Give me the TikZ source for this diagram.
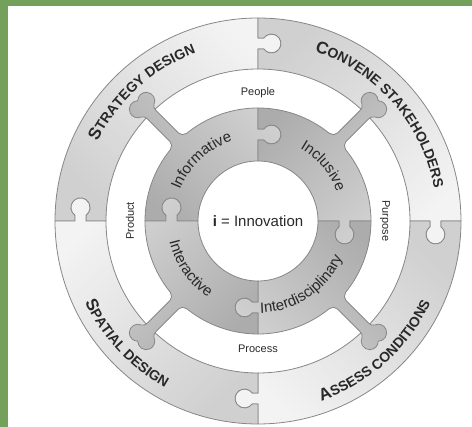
\documentclass[tikz,border=0pt]{standalone}
\usepackage{fontspec}
\setmainfont{Liberation Sans}
\usetikzlibrary{decorations.text}
\definecolor{leafgreen}{RGB}{115,160,90}
\definecolor{rimgray}{RGB}{135,135,135}
\definecolor{outerlight}{RGB}{243,243,243}
\definecolor{outerdark}{RGB}{208,208,208}
\definecolor{innerlight}{RGB}{208,208,208}
\definecolor{innerdark}{RGB}{172,172,172}
\definecolor{inkgray}{RGB}{40,40,40}
\newcommand\capbig{\bfseries\fontsize{17}{17}\selectfont}
\newcommand\capsmall{\bfseries\fontsize{14}{14}\selectfont}
\newcommand\ringfont{\fontsize{15}{15}\selectfont}

\begin{document}
\begin{tikzpicture}[
    x=1pt, y=1pt,
    outerpiece/.style={
        draw=rimgray, line width=0.8pt,
        top color=outerlight, bottom color=outerdark
    },
    innerpiece/.style={
        draw=rimgray, line width=0.8pt,
        top color=innerlight, bottom color=innerdark
    },
    ringtext/.style={
        text=inkgray, inner sep=0pt,
        font=\fontsize{11}{11}\selectfont
    },
    outerlabel/.style={
        decorate,
        decoration={text along path, text align=center,
            text color=inkgray, text={#1}}
    },
    innerlabel/.style={
        decorate,
        decoration={text along path, text align=center,
            text color=inkgray, text={|\ringfont|#1}}
    }
]
\useasboundingbox (-258,-206) rectangle (214,221);
\fill[leafgreen] (-258,-206) rectangle (-250,221);
\fill[leafgreen] (-258,215) rectangle (214,221);

% outer ring: four jigsaw pieces
\foreach \rot/\ang in {0/-45, -90/-135, -180/135, 90/45}{
  \begin{scope}[rotate=\rot]
    \path[outerpiece, shading angle=\ang] (-203,0)
      arc[start angle=180, end angle=90, radius=203]
      -- (0,183) -- (5.75,183)
      arc[start angle=144.62, end angle=-144.62, radius=9.5]
      -- (0,172) -- (0,152)
      arc[start angle=90, end angle=180, radius=152]
      -- (-172,0) -- (-172,5.75)
      arc[start angle=-54.62, end angle=234.62, radius=9.5]
      -- (-183,0) -- cycle;
  \end{scope}
}

% inner ring: four pieces with arms
\foreach \rot/\ang in {0/-45, -90/-135, -180/135, 90/45}{
  \begin{scope}[rotate=\rot]
    \path[innerpiece, shading angle=\ang] (-113,0)
      arc[start angle=180, end angle=140.84, radius=113]
      .. controls ([rotate=135]112.9,8.5) and ([rotate=135]115.5,6) .. ([rotate=135]118.5,6)
      -- ([rotate=135]149,6)
      .. controls ([rotate=135]153,6) and ([rotate=135]155.33,7.03) .. ([rotate=135]156.01,8.91)
      arc[start angle=295, end angle=90.1, radius=8.5]
      arc[start angle=179.9, end angle=-25, radius=8.5]
      .. controls ([rotate=135]155.33,-7.03) and ([rotate=135]153,-6) .. ([rotate=135]149,-6)
      -- ([rotate=135]118.5,-6)
      .. controls ([rotate=135]115.5,-6) and ([rotate=135]112.9,-8.5) .. ([rotate=135]112.41,-11.5)
      arc[start angle=129.16, end angle=90, radius=113]
      -- (0,92) -- (5.75,92)
      arc[start angle=144.62, end angle=-144.62, radius=9.5]
      -- (0,81) -- (0,60)
      arc[start angle=90, end angle=180, radius=60]
      -- (-81,0) -- (-81,5.75)
      arc[start angle=-54.62, end angle=234.62, radius=9.5]
      -- (-92,0) -- cycle;
  \end{scope}
}

% labels
\path[outerlabel={|\capbig|S|\capsmall|TRATEGY DESIGN}]
  (177:179) arc[start angle=177, end angle=87, radius=179];
\path[outerlabel={|\capbig|C|\capsmall|ONVENE STAKEHOLDERS}]
  (86:179) arc[start angle=86, end angle=-4, radius=179];
\path[outerlabel={|\capbig|A|\capsmall|SSESS CONDITIONS}]
  (267:191) arc[start angle=267, end angle=357, radius=191];
\path[outerlabel={|\capbig|S|\capsmall|PATIAL DESIGN}]
  (178:191) arc[start angle=178, end angle=268, radius=191];

\path[innerlabel={Informative}]
  (178:84) arc[start angle=178, end angle=88, radius=84];
\path[innerlabel={Inclusive}]
  (85:84) arc[start angle=85, end angle=-5, radius=84];
\path[innerlabel={Interactive}]
  (170:91) arc[start angle=170, end angle=260, radius=91];
\path[innerlabel={Interdisciplinary}]
  (259:92) arc[start angle=259, end angle=349, radius=92];

\node[ringtext] (people) at (90:128) {People};
\node[ringtext, rotate=-90] (purpose) at (0:127) {Purpose};
\node[ringtext] (process) at (270:128) {Process};
\node[ringtext, rotate=90] (product) at (180:128) {Product};

\node[text=inkgray, font=\fontsize{15}{15}\selectfont] (core) at (0,0)
  {\textbf{i} = Innovation};
\end{tikzpicture}
\end{document}
